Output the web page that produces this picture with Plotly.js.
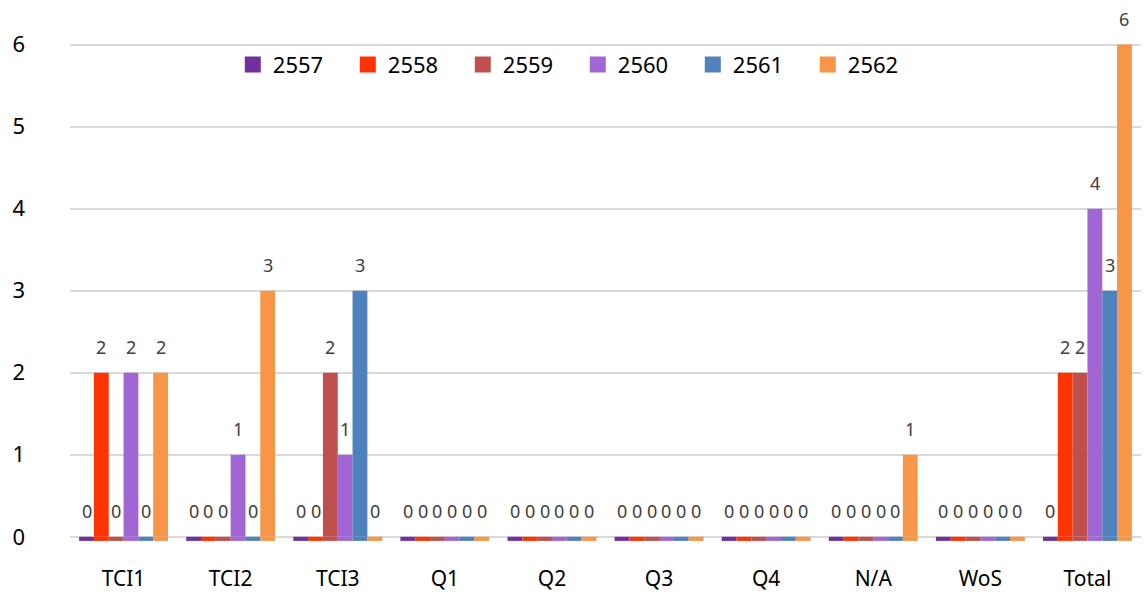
<!DOCTYPE html>
<html><head><meta charset="utf-8">
<script src="https://cdn.plot.ly/plotly-3.0.1.min.js"></script>
<style>html,body{margin:0;padding:0;background:#fff}#chart{width:1147px;height:592px}</style>
</head><body><div id="chart"></div>
<script>
const categories = ['TCI1','TCI2','TCI3','Q1','Q2','Q3','Q4','N/A','WoS','Total'];
const seriesNames = ['2557','2558','2559','2560','2561','2562'];
const v2557 = [0,0,0,0,0,0,0,0,0,0];
const v2558 = [2,0,0,0,0,0,0,0,0,2];
const v2559 = [0,0,2,0,0,0,0,0,0,2];
const v2560 = [2,1,1,0,0,0,0,0,0,4];
const v2561 = [0,0,3,0,0,0,0,0,0,3];
const v2562 = [2,3,0,0,0,0,0,1,0,6];
const seriesValues = [v2557,v2558,v2559,v2560,v2561,v2562];
const colors = ['#7030A0','#FF3300','#C0504D','#A066D3','#4F81BD','#F79646'];

const FONT = 'Noto Sans, Open Sans, sans-serif';
const W = 1147, H = 592, ML = 70, MR = 6;
const bargap = 0.17;
const plotW = W - ML - MR;
const catW = plotW / categories.length;
const barW = catW * (1 - bargap) / seriesNames.length;
const floorThickness = 0.05;

const traces = [];
seriesNames.forEach((n, i) => {
  // thin floor slab under each bar (3D-style base)
  traces.push({
    type: 'bar', name: n, x: categories, y: categories.map(() => floorThickness), base: -floorThickness,
    offsetgroup: String(i), marker: {color: colors[i]}, showlegend: false, hoverinfo: 'skip'
  });
  traces.push({
    type: 'bar', name: n, x: categories, y: seriesValues[i],
    offsetgroup: String(i), marker: {color: colors[i]}, showlegend: false, hoverinfo: 'x+y+name'
  });
  // legend proxy with larger square symbol
  traces.push({
    type: 'scatter', mode: 'markers', name: n, x: [null], y: [null],
    marker: {symbol: 'square', size: 22, color: colors[i]}, showlegend: true, hoverinfo: 'skip'
  });
});

const annotations = [];
seriesValues.forEach((vals, i) => {
  vals.forEach((v, j) => {
    annotations.push({
      x: categories[j], y: v, xref: 'x', yref: 'y', text: String(v), showarrow: false,
      xshift: (i - (seriesNames.length - 1) / 2) * barW, yshift: 26, yanchor: 'middle',
      font: {family: FONT, size: 18, color: '#404040'}
    });
  });
});

const layout = {
  width: W, height: H,
  margin: {l: ML, r: MR, t: 20, b: 47},
  paper_bgcolor: '#fff', plot_bgcolor: '#fff',
  barmode: 'group', bargap: bargap, bargroupgap: 0,
  font: {family: FONT, color: '#000'},
  xaxis: {showgrid: false, zeroline: false, showline: false, ticks: '',
          ticklabelstandoff: 19, tickfont: {family: FONT, size: 21, color: '#000'}},
  yaxis: {range: [-0.1, 6.3], tickvals: [0,1,2,3,4,5,6], showgrid: true, gridcolor: '#d9d9d9', gridwidth: 2,
          zeroline: false, showline: false, ticks: '', ticklabelstandoff: 44,
          tickfont: {family: FONT, size: 22, color: '#000'}},
  showlegend: true,
  legend: {orientation: 'h', x: 0.152, xanchor: 'left', y: 0.955, yanchor: 'top',
           entrywidth: 70, entrywidthmode: 'pixels', itemsizing: 'trace',
           font: {family: FONT, size: 22, color: '#000'}, bgcolor: 'rgba(0,0,0,0)'},
  annotations: annotations
};
Plotly.newPlot('chart', traces, layout, {displayModeBar: false, staticPlot: true});
</script></body></html>
